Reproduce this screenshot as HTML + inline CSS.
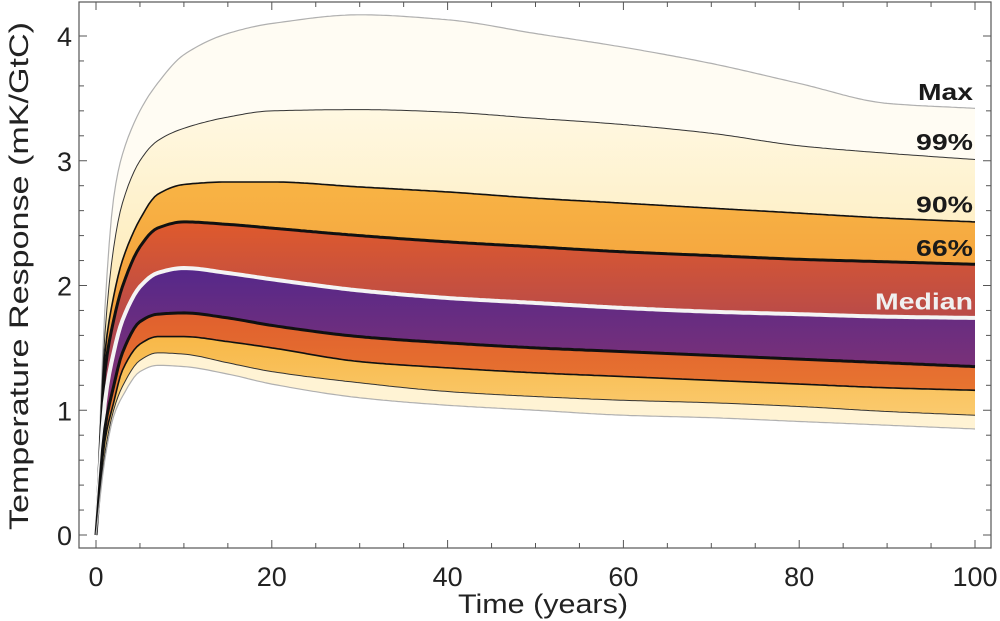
<!DOCTYPE html>
<html><head><meta charset="utf-8"><style>
body{margin:0;background:#fff;}
svg{display:block;font-family:"Liberation Sans",sans-serif;}
</style></head><body>
<svg id="c" width="1000" height="621">
<defs>
<linearGradient id="g99" x1="0" y1="0" x2="0" y2="1"><stop offset="0" stop-color="#fff8e2"/><stop offset="0.6" stop-color="#fde6a8"/><stop offset="1" stop-color="#f9c462"/></linearGradient>
<linearGradient id="g90" x1="0" y1="0" x2="0" y2="1"><stop offset="0" stop-color="#f8b445"/><stop offset="1" stop-color="#ec7a2c"/></linearGradient>
<linearGradient id="g66" x1="0" y1="0" x2="0" y2="1"><stop offset="0" stop-color="#df5a2c"/><stop offset="1" stop-color="#64298a"/></linearGradient>
<linearGradient id="g33" x1="0" y1="0" x2="0" y2="1"><stop offset="0" stop-color="#55288a"/><stop offset="1" stop-color="#b8405a"/></linearGradient>
<linearGradient id="g10" x1="0" y1="0" x2="0" y2="1"><stop offset="0" stop-color="#e0602e"/><stop offset="1" stop-color="#f59a34"/></linearGradient>
<linearGradient id="g01" x1="0" y1="0" x2="0" y2="1"><stop offset="0" stop-color="#f8b848"/><stop offset="1" stop-color="#fde6a8"/></linearGradient>
</defs>
<g id="plot"></g>
</svg>
<script>
const times=[0,1,2,3,5,7,10,15,20,30,40,50,60,70,80,90,100];
const sMax=[0,1.8,2.7,3.05,3.4,3.62,3.85,4.02,4.1,4.17,4.13,4.02,3.91,3.78,3.62,3.46,3.42];
const s99=[0,1.6,2.3,2.66,3.0,3.16,3.26,3.35,3.4,3.41,3.39,3.34,3.29,3.22,3.12,3.06,3.01];
const s90=[0,1.45,1.91,2.2,2.53,2.73,2.81,2.83,2.83,2.79,2.75,2.70,2.66,2.62,2.58,2.54,2.51];
const s66=[0,1.3,1.72,1.99,2.31,2.46,2.51,2.49,2.46,2.40,2.35,2.31,2.27,2.24,2.21,2.19,2.17];
const sMed=[0,1.06,1.46,1.72,1.99,2.1,2.14,2.1,2.05,1.96,1.90,1.86,1.82,1.79,1.77,1.75,1.74];
const s33=[0,0.85,1.19,1.46,1.71,1.77,1.78,1.74,1.68,1.59,1.54,1.50,1.47,1.44,1.41,1.38,1.35];
const s10=[0,0.75,1.06,1.32,1.53,1.59,1.59,1.55,1.5,1.39,1.34,1.30,1.27,1.24,1.21,1.18,1.16];
const s01=[0,0.65,1.0,1.19,1.40,1.46,1.45,1.38,1.31,1.22,1.15,1.11,1.08,1.06,1.03,0.99,0.96];
const sMin=[0,0.6,0.95,1.11,1.31,1.36,1.35,1.29,1.21,1.10,1.04,1.0,0.96,0.94,0.91,0.88,0.85];
const xTicks=[0,20,40,60,80,100];
const yTicks=[0,1,2,3,4];
const labelText=["Max","99%","90%","66%","Median"];
const labelVals=[3.55,3.15,2.65,2.3,1.87];
const labelWidths=[55,57,57,57,98];

const X=v=>96+v*8.79, Y=v=>535-v*124.75;
const NS="http://www.w3.org/2000/svg";
const g=document.getElementById('plot');
function mk(t,a,parent){const e=document.createElementNS(NS,t);for(const k in a)e.setAttribute(k,a[k]);(parent||g).appendChild(e);return e;}
function interp(s){
  const n=times.length,d=[],m=[];
  for(let i=0;i<n-1;i++)d.push((s[i+1]-s[i])/(times[i+1]-times[i]));
  m[0]=d[0];m[n-1]=d[n-2];
  for(let i=1;i<n-1;i++)m[i]=(d[i-1]*d[i]<=0)?0:2/(1/d[i-1]+1/d[i]);
  const out=[];
  for(let i=0;i<n-1;i++){
    const h=times[i+1]-times[i],steps=Math.max(4,Math.round(h*3));
    for(let k=0;k<steps;k++){const u=k/steps,t=times[i]+u*h;
      const h00=2*u*u*u-3*u*u+1,h10=u*u*u-2*u*u+u,h01=-2*u*u*u+3*u*u,h11=u*u*u-u*u;
      const v=h00*s[i]+h10*h*m[i]+h01*s[i+1]+h11*h*m[i+1];
      out.push(X(t).toFixed(1)+','+Y(v).toFixed(1));}
  }
  out.push(X(times[n-1]).toFixed(1)+','+Y(s[n-1]).toFixed(1));
  return out;
}
function line(s){return 'M'+interp(s).join(' L');}
function band(a,b,fill,name){
  const p='M'+interp(a).join(' L')+' L'+interp(b).reverse().join(' L')+'Z';
  const e=mk('path',{d:p,fill:fill,stroke:'none'});
  
  
}
band(sMax,s99,'#fffcf3','band-max-99');
band(s99,s90,'url(#g99)','band-99-90');
band(s90,s66,'url(#g90)','band-90-66');
band(s66,sMed,'url(#g66)','band-66-median');
band(sMed,s33,'url(#g33)','band-median-33');
band(s33,s10,'url(#g10)','band-33-10');
band(s10,s01,'url(#g01)','band-10-1');
band(s01,sMin,'#fff3d4','band-1-min');
const lines=[[sMax,'#b0b0b0',1.2,'max-line'],[s99,'#333',1,'p99-line'],[s90,'#111',1.6,'p90-line'],[s66,'#111',3,'p66-line'],[sMed,'#f4f4f4',4,'median-line'],[s33,'#111',3,'p33-line'],[s10,'#111',1.6,'p10-line'],[s01,'#333',1,'p1-line'],[sMin,'#b0b0b0',1.2,'min-line']];
lines.forEach(l=>{const e=mk('path',{d:line(l[0]),fill:'none',stroke:l[1],'stroke-width':l[2]});

});
const fr=mk('rect',{x:79,y:2,width:912,height:546,fill:'none',stroke:'#555','stroke-width':1.2});


for(let v=0;v<=100;v+=5){const L=v%20===0?8:5;
mk('line',{x1:X(v),x2:X(v),y1:548,y2:548-L,stroke:'#555'});mk('line',{x1:X(v),x2:X(v),y1:2,y2:2+L,stroke:'#555'});}
for(let v=0;v<=4.2;v+=0.2){const L=Math.abs(v-Math.round(v))<1e-6?8:5;
mk('line',{x1:79,x2:79+L,y1:Y(v),y2:Y(v),stroke:'#555'});mk('line',{x1:991,x2:991-L,y1:Y(v),y2:Y(v),stroke:'#555'});}
xTicks.forEach(v=>{const t=mk('text',{x:X(v),y:586,'text-anchor':'middle','font-size':27,fill:'#222'});t.textContent=v;

});
yTicks.forEach(v=>{const t=mk('text',{x:72,y:Y(v)+10,'text-anchor':'end','font-size':27,fill:'#222'});t.textContent=v;

});
const xt=mk('text',{x:458,y:613,'font-size':27,fill:'#222',textLength:170,lengthAdjust:'spacingAndGlyphs'});xt.textContent='Time (years)';


const yt=mk('text',{x:0,y:0,'font-size':27,fill:'#222',textLength:508,lengthAdjust:'spacingAndGlyphs',transform:'translate(28,530) rotate(-90)'});yt.textContent='Temperature Response (mK/GtC)';


labelText.forEach((s,i)=>{const t=mk('text',{x:973-labelWidths[i],y:Y(labelVals[i])+8,'font-size':23,'font-weight':'bold',textLength:labelWidths[i],lengthAdjust:'spacingAndGlyphs',fill:s==='Median'?'#f0f0f0':'#1a1a1a'});t.textContent=s;

});
</script>
</body></html>
